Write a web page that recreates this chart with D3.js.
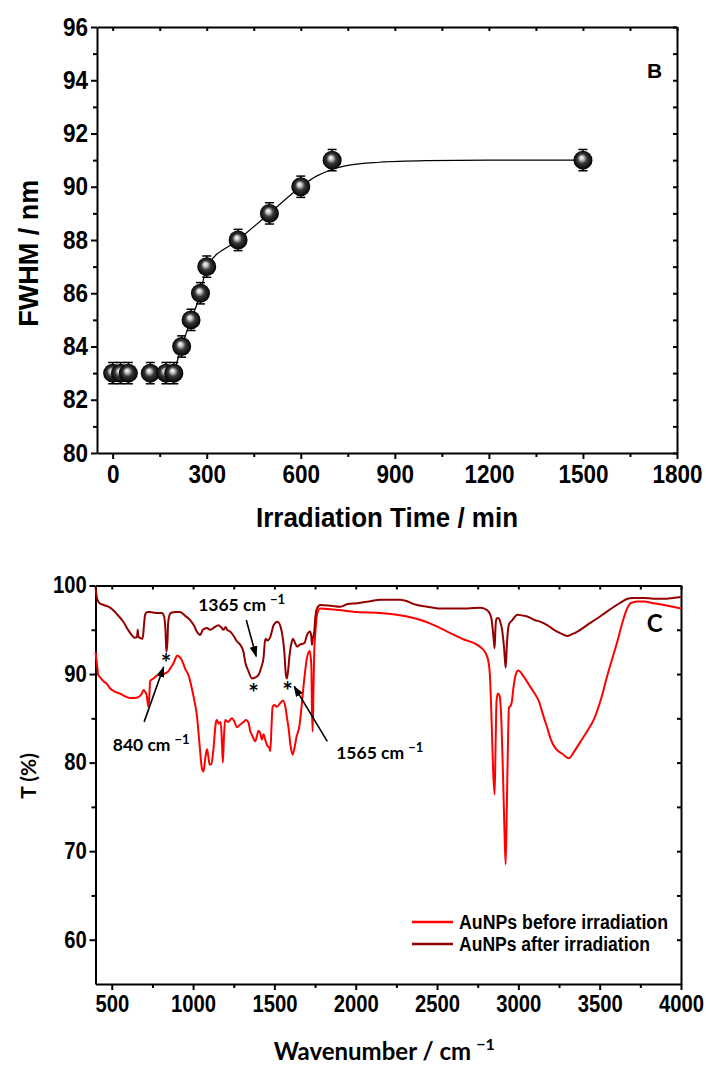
<!DOCTYPE html>
<head>
  <meta charset="utf-8">
  <script src="https://cdnjs.cloudflare.com/ajax/libs/d3/7.8.5/d3.min.js"></script>
  <style>
    body { margin: 0; background: #fff; }
    svg { display: block; }
    .narrow { font-family: "Liberation Sans Narrow", "Arial Narrow", "Liberation Sans", Arial, sans-serif; font-weight: bold; }
    .cal { font-family: Lato, "Open Sans", sans-serif; font-weight: bold; }
    .axis path, .axis line { stroke: #000; stroke-width: 2; }
    .axis text { fill: #000; }
  </style>
</head>
<body>
<svg id="chart" width="706" height="1065"></svg>
<script>

// ---- panel B data ----
var times = [0, 25, 50, 120, 170, 195, 220, 250, 280, 300, 400, 500, 600, 700, 1500];
var fwhm  = [83, 83, 83, 83, 83, 83, 84, 85, 86, 87, 88, 89, 90, 91, 91];
var fwhmErr = 0.4;
var fitTime = [195, 220, 250, 280, 300, 400, 500, 600, 650, 700, 750, 850, 1000, 1200, 1500];
var fitFwhm = [83, 84, 85, 86, 87, 88, 89, 90, 90.4, 90.65, 90.8, 90.92, 90.98, 91, 91];
var timeTicks = [0, 300, 600, 900, 1200, 1500, 1800];
var fwhmTicks = [80, 82, 84, 86, 88, 90, 92, 94, 96];

// ---- panel C data: [wavenumber, T%] ----
var beforeIrr = [[400,92.5],[410,91.0],[417,89.9],[430,89.6],[448,89.2],[470,88.9],[489,88.4],[520,88.0],[551,87.8],[580,87.5],[612,87.3],[640,87.3],[664,87.4],[685,87.8],[694,88.2],[705,88.0],[715,87.6],[725,86.3],[731,87.5],[736,89.2],[756,89.5],[787,89.9],[808,89.9],[830,90.1],[848,90.3],[865,90.8],[879,91.2],[895,91.9],[904,92.1],[918,91.9],[930,91.6],[945,90.9],[951,90.6],[971,89.9],[985,89.0],[992,88.4],[1010,86.8],[1023,85.4],[1040,82.0],[1054,79.4],[1064,79.0],[1075,80.5],[1085,81.5],[1093,80.8],[1101,79.8],[1112,79.8],[1125,81.5],[1140,84.5],[1146,84.8],[1158,84.4],[1170,84.6],[1178,82.0],[1183,80.0],[1190,83.0],[1197,84.8],[1215,84.6],[1239,85.0],[1255,84.6],[1269,84.0],[1290,84.3],[1310,84.6],[1325,84.8],[1341,84.5],[1351,83.6],[1365,83.0],[1382,82.4],[1395,83.2],[1402,83.6],[1413,83.3],[1423,82.6],[1433,83.2],[1445,82.5],[1454,82.0],[1470,81.6],[1475,81.3],[1482,84.0],[1489,86.3],[1500,86.5],[1516,86.3],[1535,86.7],[1553,87.0],[1567,86.3],[1578,85.0],[1587,83.9],[1600,81.8],[1612,80.9],[1625,81.8],[1635,82.8],[1655,84.3],[1668,86.5],[1680,88.8],[1700,91.8],[1717,92.6],[1727,91.0],[1731,86.0],[1735,83.5],[1740,88.0],[1745,92.5],[1753,95.0],[1762,96.7],[1782,97.4],[1864,97.3],[2008,97.0],[2152,96.9],[2316,96.5],[2400,96.1],[2460,95.7],[2563,94.8],[2665,93.9],[2747,93.3],[2798,92.4],[2815,91.5],[2825,89.9],[2835,85.0],[2845,79.0],[2854,76.4],[2860,82.0],[2866,87.0],[2874,87.8],[2885,87.5],[2895,85.0],[2905,79.0],[2915,72.0],[2922,68.5],[2930,76.0],[2937,83.0],[2942,86.2],[2955,86.5],[2960,86.9],[2970,88.5],[2985,90.0],[2999,90.4],[3030,89.8],[3065,88.8],[3100,87.8],[3127,86.9],[3150,85.5],[3178,83.9],[3200,82.6],[3229,81.6],[3270,81.0],[3311,80.5],[3345,81.3],[3383,82.4],[3425,83.6],[3465,84.9],[3510,87.3],[3548,89.9],[3580,91.9],[3609,93.7],[3635,95.5],[3660,97.0],[3691,98.0],[3730,98.2],[3773,98.2],[3830,98.0],[3896,97.8],[3950,97.6],[4000,97.4]];

var afterIrr = [[400,99.8],[410,98.5],[425,98.0],[450,97.8],[490,97.5],[530,96.8],[571,95.9],[600,95.0],[623,94.4],[640,94.1],[655,94.2],[660,95.0],[664,94.2],[690,94.0],[698,95.5],[705,96.7],[720,97.0],[736,97.0],[770,96.9],[808,96.9],[822,96.5],[830,95.0],[836,92.5],[842,93.5],[847,95.9],[856,96.7],[863,96.9],[890,97.0],[920,97.0],[950,96.6],[982,96.1],[1005,95.5],[1023,94.8],[1043,94.4],[1060,95.0],[1085,95.2],[1105,95.0],[1125,95.2],[1156,95.5],[1172,95.3],[1187,95.0],[1200,95.3],[1210,95.0],[1228,94.8],[1250,94.3],[1269,93.7],[1290,93.3],[1310,92.5],[1320,91.4],[1341,90.3],[1362,89.5],[1380,89.6],[1402,89.9],[1420,90.8],[1433,91.8],[1444,94.0],[1458,93.8],[1475,94.2],[1495,95.5],[1519,95.9],[1540,95.2],[1552,94.0],[1561,92.5],[1570,90.0],[1577,89.5],[1585,90.5],[1593,92.1],[1605,93.5],[1614,94.0],[1625,93.6],[1639,93.1],[1655,93.3],[1670,93.4],[1685,93.5],[1700,94.4],[1721,94.8],[1728,94.0],[1731,93.3],[1736,94.0],[1745,94.8],[1752,96.5],[1762,97.4],[1782,97.8],[1850,97.7],[1905,97.6],[1950,97.9],[2008,98.0],[2080,98.2],[2152,98.4],[2200,98.4],[2275,98.4],[2320,98.2],[2357,97.9],[2440,97.6],[2521,97.4],[2600,97.4],[2686,97.4],[2768,97.5],[2809,97.2],[2825,96.8],[2834,96.3],[2848,94.0],[2854,92.9],[2860,95.5],[2866,96.3],[2880,96.3],[2887,96.0],[2900,95.0],[2912,93.0],[2922,90.7],[2930,93.5],[2942,95.6],[2963,96.1],[2994,96.7],[3030,96.6],[3055,96.5],[3100,96.1],[3137,95.9],[3180,95.5],[3219,95.0],[3260,94.6],[3301,94.3],[3330,94.5],[3363,94.8],[3420,95.5],[3486,96.3],[3540,97.0],[3588,97.6],[3630,98.1],[3671,98.5],[3700,98.6],[3773,98.6],[3830,98.5],[3896,98.5],[3950,98.6],[4000,98.7]];

var wnTicks = [500, 1000, 1500, 2000, 2500, 3000, 3500, 4000];
var tTicks = [60, 70, 80, 90, 100];
var legendNames = ["AuNPs before irradiation", "AuNPs after irradiation"];
var seriesColors = ["#ff0000", "#930000"];

// annotation positions in data units
var stars = [[834, 91.8], [1372, 88.45], [1581, 88.65]];
var arrows = [
  {from: [1327, 96.1], to: [1388, 92.0]},
  {from: [699, 84.6], to: [819, 90.8]},
  {from: [1825, 82.4], to: [1622, 88.6]}
];
var peakLabels = [
  {wn: 1031, t: 97.1, text: "1365 cm"},
  {wn: 506, t: 81.35, text: "840 cm"},
  {wn: 1880, t: 80.4, text: "1565 cm"}
];

var svg = d3.select("#chart");

var defs = svg.append("defs");
var grad = defs.append("radialGradient").attr("id", "ball")
    .attr("cx", "50%").attr("cy", "50%").attr("r", "50%")
    .attr("fx", "42%").attr("fy", "36%");
grad.append("stop").attr("offset", "0%").attr("stop-color", "#ffffff");
grad.append("stop").attr("offset", "22%").attr("stop-color", "#c8c8c8");
grad.append("stop").attr("offset", "50%").attr("stop-color", "#3a3a3a");
grad.append("stop").attr("offset", "100%").attr("stop-color", "#000000");

defs.append("marker").attr("id", "arrow")
    .attr("viewBox", "0 0 10 10").attr("refX", 9).attr("refY", 5)
    .attr("markerWidth", 7).attr("markerHeight", 7).attr("orient", "auto")
  .append("path").attr("d", "M0,1.5 L10,5 L0,8.5 Z").attr("fill", "#000");

function minorVals(majors, step) {
  var out = [];
  majors.forEach(function(m) { out.push(m + step); });
  return out;
}

// tall, slightly condensed tick labels like the original
function squeeze(sel, k) {
  sel.attr("transform", "scale(" + k + ",1)");
}

// ================= panel B =================
var xB = d3.scaleLinear().domain([-50, 1800]).range([97, 677]);
var yB = d3.scaleLinear().domain([80, 96]).range([453, 27]);

var gB = svg.append("g");

gB.append("g").attr("class", "axis narrow")
    .attr("transform", "translate(0," + yB(80) + ")")
    .call(d3.axisBottom(xB).tickValues(timeTicks).tickFormat(d3.format("d")).tickSize(6).tickSizeOuter(0).tickPadding(6))
    .selectAll("text").style("font-size", "25px").call(squeeze, 0.9);
gB.append("g").attr("class", "axis")
    .attr("transform", "translate(0," + yB(80) + ")")
    .call(d3.axisBottom(xB).tickValues(minorVals(timeTicks.slice(0, -1), 150)).tickSize(4).tickFormat(""))
    .select(".domain").remove();

gB.append("g").attr("class", "axis narrow")
    .attr("transform", "translate(" + xB(-50) + ",0)")
    .call(d3.axisLeft(yB).tickValues(fwhmTicks).tickSize(6).tickSizeOuter(0).tickPadding(4))
    .selectAll("text").style("font-size", "25px").call(squeeze, 0.9);
gB.append("g").attr("class", "axis")
    .attr("transform", "translate(" + xB(-50) + ",0)")
    .call(d3.axisLeft(yB).tickValues(minorVals(fwhmTicks.slice(0, -1), 1)).tickSize(4).tickFormat(""))
    .select(".domain").remove();

gB.append("g").attr("class", "axis")
    .attr("transform", "translate(0," + yB(96) + ")")
    .call(d3.axisTop(xB).tickValues(d3.range(0, 1801, 150)).tickSize(-4).tickSizeOuter(0).tickFormat(""));
gB.append("g").attr("class", "axis")
    .attr("transform", "translate(" + xB(1800) + ",0)")
    .call(d3.axisRight(yB).tickValues(d3.range(80, 97, 1)).tickSize(-4).tickSizeOuter(0).tickFormat(""));

var fitLine = d3.line()
    .x(function(d) { return xB(d[0]); })
    .y(function(d) { return yB(d[1]); })
    .curve(d3.curveMonotoneX);

gB.append("path")
    .datum(fitTime.map(function(t, i) { return [t, fitFwhm[i]]; }))
    .attr("d", fitLine)
    .attr("fill", "none").attr("stroke", "#000").attr("stroke-width", 1.2);

var pts = times.map(function(t, i) { return {t: t, v: fwhm[i]}; });

var eb = gB.selectAll(".eb").data(pts).enter().append("g").attr("class", "eb");
eb.append("line")
    .attr("x1", function(d) { return xB(d.t); }).attr("x2", function(d) { return xB(d.t); })
    .attr("y1", function(d) { return yB(d.v - fwhmErr); }).attr("y2", function(d) { return yB(d.v + fwhmErr); })
    .attr("stroke", "#000").attr("stroke-width", 1.5);
[-1, 1].forEach(function(s) {
  eb.append("line")
      .attr("x1", function(d) { return xB(d.t) - 4.5; }).attr("x2", function(d) { return xB(d.t) + 4.5; })
      .attr("y1", function(d) { return yB(d.v + s * fwhmErr); }).attr("y2", function(d) { return yB(d.v + s * fwhmErr); })
      .attr("stroke", "#000").attr("stroke-width", 1.5);
});

gB.selectAll(".ball").data(pts).enter().append("circle")
    .attr("class", "ball")
    .attr("cx", function(d) { return xB(d.t); })
    .attr("cy", function(d) { return yB(d.v); })
    .attr("r", 9.5)
    .attr("fill", "url(#ball)");

gB.append("text").attr("class", "narrow")
    .attr("x", xB(1704)).attr("y", yB(94.08))
    .style("font-size", "21px").text("B");

gB.append("text").attr("class", "narrow")
    .attr("transform", "translate(38," + yB(87.5) + ") rotate(-90)")
    .attr("text-anchor", "middle")
    .style("font-size", "27px").text("FWHM / nm");

gB.append("text").attr("class", "narrow")
    .attr("x", (xB(-50) + xB(1800)) / 2).attr("y", 527)
    .attr("text-anchor", "middle")
    .attr("textLength", 262).attr("lengthAdjust", "spacingAndGlyphs")
    .style("font-size", "27px").text("Irradiation Time / min");

// ================= panel C =================
var xC = d3.scaleLinear().domain([400, 4000]).range([95.5, 681]);
var yC = d3.scaleLinear().domain([55, 100]).range([984, 585.5]);

var gC = svg.append("g");

gC.append("g").attr("class", "axis narrow")
    .attr("transform", "translate(0," + yC(55) + ")")
    .call(d3.axisBottom(xC).tickValues(wnTicks).tickFormat(d3.format("d")).tickSize(6).tickSizeOuter(0).tickPadding(6))
    .selectAll("text").style("font-size", "23px").call(squeeze, 0.88);
gC.append("g").attr("class", "axis")
    .attr("transform", "translate(0," + yC(55) + ")")
    .call(d3.axisBottom(xC).tickValues(minorVals(wnTicks.slice(0, -1), 250)).tickSize(4).tickFormat(""))
    .select(".domain").remove();

gC.append("g").attr("class", "axis narrow")
    .attr("transform", "translate(" + xC(400) + ",0)")
    .call(d3.axisLeft(yC).tickValues(tTicks).tickSize(6).tickSizeOuter(0).tickPadding(4))
    .selectAll("text").style("font-size", "23px").call(squeeze, 0.88);
gC.append("g").attr("class", "axis")
    .attr("transform", "translate(" + xC(400) + ",0)")
    .call(d3.axisLeft(yC).tickValues(minorVals(tTicks.slice(0, -1), 5)).tickSize(4).tickFormat(""))
    .select(".domain").remove();

gC.append("g").attr("class", "axis")
    .attr("transform", "translate(0," + yC(100) + ")")
    .call(d3.axisTop(xC).tickValues(d3.range(500, 4001, 250)).tickSize(-4).tickSizeOuter(0).tickFormat(""));
gC.append("g").attr("class", "axis")
    .attr("transform", "translate(" + xC(4000) + ",0)")
    .call(d3.axisRight(yC).tickValues(d3.range(60, 101, 5)).tickSize(-4).tickSizeOuter(0).tickFormat(""));

var specLine = d3.line()
    .x(function(d) { return xC(d[0]); })
    .y(function(d) { return yC(d[1]); })
    .curve(d3.curveMonotoneX);

[beforeIrr, afterIrr].forEach(function(s, i) {
  gC.append("path").datum(s).attr("d", specLine)
      .attr("fill", "none").attr("stroke", seriesColors[i])
      .attr("stroke-width", 2).attr("stroke-linejoin", "round");
});

// annotations
gC.selectAll(".star").data(stars).enter().append("text")
    .attr("class", "cal star")
    .attr("x", function(d) { return xC(d[0]); })
    .attr("y", function(d) { return yC(d[1]) + 14; })
    .attr("text-anchor", "middle")
    .style("font-size", "25px").text("*");

gC.selectAll(".arr").data(arrows).enter().append("line")
    .attr("class", "arr")
    .attr("x1", function(d) { return xC(d.from[0]); }).attr("y1", function(d) { return yC(d.from[1]); })
    .attr("x2", function(d) { return xC(d.to[0]); }).attr("y2", function(d) { return yC(d.to[1]); })
    .attr("stroke", "#000").attr("stroke-width", 1.6)
    .attr("marker-end", "url(#arrow)");

var pl = gC.selectAll(".plab").data(peakLabels).enter().append("text")
    .attr("class", "cal plab")
    .attr("x", function(d) { return xC(d.wn); })
    .attr("y", function(d) { return yC(d.t); })
    .style("font-size", "17.5px");
pl.append("tspan").text(function(d) { return d.text; });
pl.append("tspan").attr("dx", 4).attr("dy", -7).style("font-size", "13px").text("\u22121");

gC.append("text").attr("class", "cal")
    .attr("x", xC(3790)).attr("y", yC(94.8))
    .style("font-size", "24px").text("C");

// legend
var lg = gC.selectAll(".leg").data(legendNames).enter().append("g").attr("class", "leg")
    .attr("transform", function(d, i) { return "translate(412," + (922 + i * 22) + ")"; });
lg.append("line").attr("x1", 0).attr("x2", 41)
    .attr("stroke", function(d, i) { return seriesColors[i]; }).attr("stroke-width", 2.5);
lg.append("text").attr("class", "narrow").attr("x", 47).attr("y", 7)
    .attr("textLength", function(d, i) { return i === 0 ? 209 : 191; })
    .attr("lengthAdjust", "spacingAndGlyphs")
    .style("font-size", "20px")
    .text(function(d) { return d; });

gC.append("text").attr("class", "cal")
    .attr("transform", "translate(36," + yC(78.5) + ") rotate(-90)")
    .attr("text-anchor", "middle")
    .style("font-size", "21px").text("T (%)");

var xt = gC.append("text").attr("class", "cal")
    .attr("x", (xC(400) + xC(4000)) / 2 - 4).attr("y", 1060)
    .attr("text-anchor", "middle")
    .style("font-size", "24px");
xt.append("tspan").text("Wavenumber / cm");
xt.append("tspan").attr("dx", 5).attr("dy", -10).style("font-size", "16px").text("\u22121");

</script>
</body>
